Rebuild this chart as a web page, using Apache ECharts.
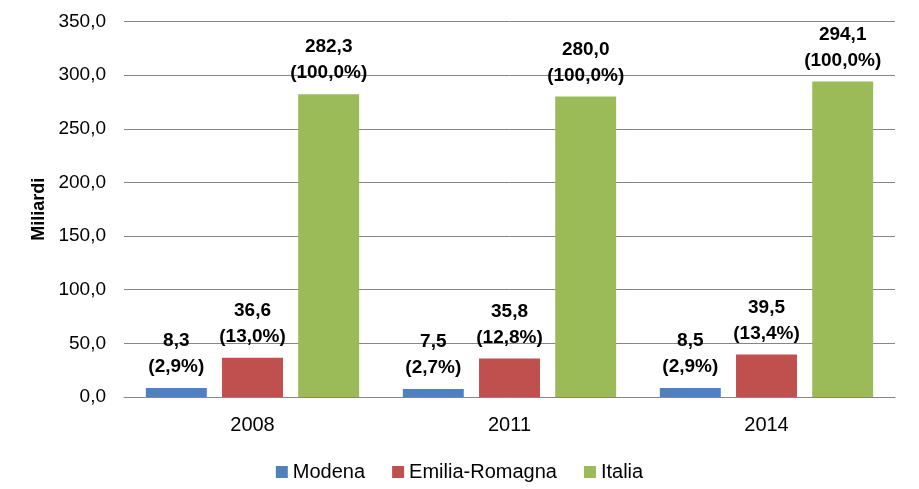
<!DOCTYPE html>
<html>
<head>
<meta charset="utf-8">
<script src="https://cdn.jsdelivr.net/npm/echarts@6/dist/echarts.min.js"></script>
<style>
  html, body { margin: 0; padding: 0; background: #fff; }
  #chart { width: 919px; height: 489px; }
</style>
</head>
<body>
<div id="chart"></div>
<script>
  var years = ['2008', '2011', '2014']
  var seriesNames = ['Modena', 'Emilia-Romagna', 'Italia']
  var modena = [8.3, 7.5, 8.5]
  var emilia = [36.6, 35.8, 39.5]
  var italia = [282.3, 280.0, 294.1]
  var modenaPct = [2.9, 2.7, 2.9]
  var emiliaPct = [13.0, 12.8, 13.4]
  var italiaPct = [100.0, 100.0, 100.0]
  var colors = ['#4F81BD', '#C0504D', '#9BBB59']

  function fmt (v) {
    return v.toFixed(1).replace('.', ',')
  }

  function makeSeries (name, values, pcts, color) {
    return {
      name: name,
      type: 'bar',
      data: values,
      itemStyle: { color: color },
      barGap: '25%',
      barCategoryGap: '17%',
      label: {
        show: true,
        position: 'top',
        distance: 8,
        color: '#000',
        fontFamily: 'Liberation Sans',
        fontWeight: 'bold',
        fontSize: 19,
        lineHeight: 26,
        formatter: function (p) {
          return fmt(p.value) + '\n(' + fmt(pcts[p.dataIndex]) + '%)'
        }
      }
    }
  }

  var chart = echarts.init(document.getElementById('chart'))
  var option = {
    animation: false,
    textStyle: { fontFamily: 'Liberation Sans' },
    grid: {
      left: 124,
      right: 24,
      top: 21.5,
      bottom: 92,
      containLabel: false
    },
    legend: {
      data: seriesNames,
      bottom: 2,
      left: 'center',
      itemWidth: 12,
      itemHeight: 12,
      itemGap: 27,
      icon: 'rect',
      textStyle: { fontSize: 20, color: '#000', fontFamily: 'Liberation Sans' }
    },
    xAxis: {
      type: 'category',
      data: years,
      axisLine: { lineStyle: { color: '#868686', width: 1 } },
      axisTick: { show: false },
      axisLabel: { fontSize: 20, color: '#000', margin: 18 }
    },
    yAxis: {
      type: 'value',
      min: 0,
      max: 350,
      interval: 50,
      name: 'Miliardi',
      nameLocation: 'middle',
      nameGap: 76,
      nameTextStyle: { fontSize: 18, fontWeight: 'bold', color: '#000' },
      axisLine: { show: false },
      axisTick: { show: false },
      axisLabel: {
        fontSize: 19,
        color: '#000',
        margin: 18,
        formatter: function (v) { return fmt(v) }
      },
      splitLine: { lineStyle: { color: '#868686', width: 1 } }
    },
    series: [
      makeSeries(seriesNames[0], modena, modenaPct, colors[0]),
      makeSeries(seriesNames[1], emilia, emiliaPct, colors[1]),
      makeSeries(seriesNames[2], italia, italiaPct, colors[2])
    ]
  }
  chart.setOption(option)
</script>
</body>
</html>
